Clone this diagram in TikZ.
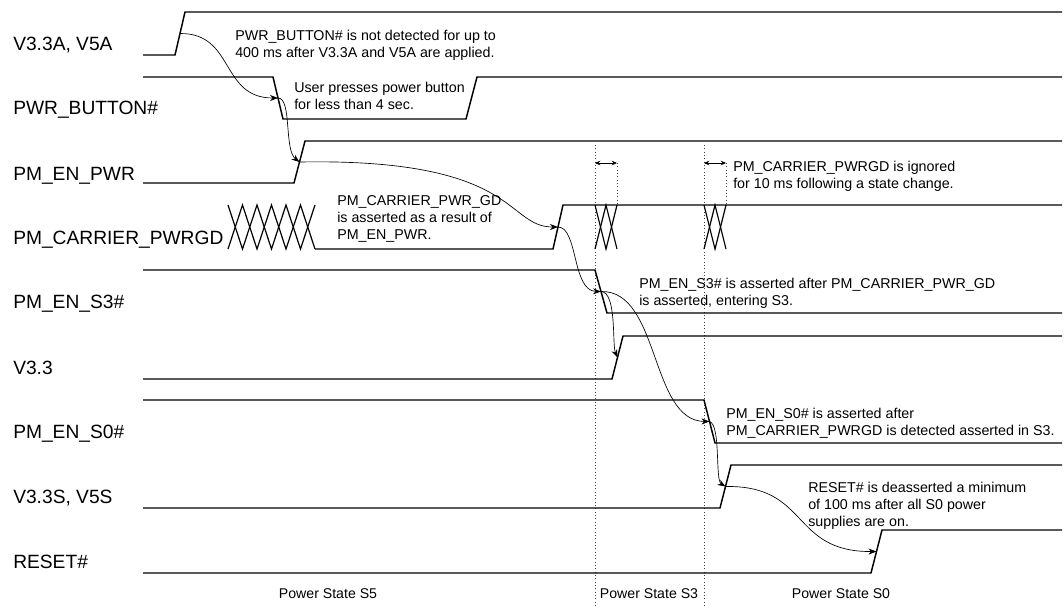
\documentclass[tikz,border=0pt]{standalone}
\usepackage{fontspec}
\setmainfont{Liberation Sans}
\usetikzlibrary{arrows.meta}

\begin{document}
\begin{tikzpicture}[x=0.75pt,y=-0.75pt,
  sig/.style={line width=1.1pt},
  xing/.style={line width=.9pt},
  link/.style={line width=.5pt,-{Stealth[length=6pt,width=4.5pt]}},
  span/.style={line width=.6pt,{Stealth[length=4pt,width=3.5pt]}-{Stealth[length=4pt,width=3.5pt]}},
  guide/.style={line width=.5pt,dotted,black!75},
  lbl/.style={anchor=base west,inner sep=0pt,font=\fontsize{14.4}{17}\selectfont},
  note/.style={anchor=north west,inner sep=0pt,align=left,font=\fontsize{10.7}{12.75}\selectfont},
  state/.style={anchor=base,inner sep=0pt,font=\fontsize{10.6}{12.75}\selectfont}]
\useasboundingbox (0,0) rectangle (1064,608);
\node[lbl] (lbl-v33a) at (13,50) {V3.3A, V5A};
\node[lbl] (lbl-pwrbtn) at (13,114) {PWR\_BUTTON\#};
\node[lbl] (lbl-pmenpwr) at (13,180) {PM\_EN\_PWR};
\node[lbl] (lbl-carrier) at (13,244) {PM\_CARRIER\_PWRGD};
\node[lbl] (lbl-s3) at (13,308) {PM\_EN\_S3\#};
\node[lbl] (lbl-v33) at (13,374) {V3.3};
\node[lbl] (lbl-s0) at (13,438) {PM\_EN\_S0\#};
\node[lbl] (lbl-v33s) at (13,503) {V3.3S, V5S};
\node[lbl] (lbl-reset) at (13,568) {RESET\#};
\draw[guide] (595,145) -- (595,608);
\draw[guide] (704,145) -- (704,608);
\draw[guide] (617,163) -- (617,205);
\draw[guide] (726,163) -- (726,205);
\draw[sig] (143,55) -- (175,55) -- (185,12) -- (1062,12);
\draw[sig] (143,77) -- (273,77) -- (283,119) -- (466,119) -- (477,77) -- (1062,77);
\draw[sig] (143,183) -- (294,183) -- (305,141) -- (1062,141);
\draw[sig] (315,249) -- (553,249) -- (563,205) -- (1062,205);
\draw[xing] (228,205) -- (242.5,249) -- (257,205) -- (271.5,249) -- (286,205) -- (300.5,249) -- (315,205);
\draw[xing] (228,249) -- (242.5,205) -- (257,249) -- (271.5,205) -- (286,249) -- (300.5,205) -- (315,249);
\draw[xing] (595,205) -- (606,249) -- (617,205);
\draw[xing] (595,249) -- (606,205) -- (617,249);
\draw[xing] (704,205) -- (715,249) -- (726,205);
\draw[xing] (704,249) -- (715,205) -- (726,249);
\draw[sig] (143,270) -- (595,270) -- (607,313) -- (1062,313);
\draw[sig] (143,379) -- (612,379) -- (623,336) -- (1062,336);
\draw[sig] (143,400) -- (704,400) -- (715,443) -- (1062,443);
\draw[sig] (143,508) -- (720,508) -- (731,465) -- (1062,465);
\draw[sig] (143,573) -- (871,573) -- (882,530) -- (1062,530);
\coordinate (v33a-up) at (180,33.5);
\coordinate (pwrbtn-dn) at (278,98);
\coordinate (pmenpwr-up) at (299.5,162);
\coordinate (carrier-up) at (558,227);
\coordinate (s3-dn) at (601,291.5);
\coordinate (v33-up) at (617.5,357.5);
\coordinate (s0-dn) at (709.5,421.5);
\coordinate (v33s-up) at (725.5,486.5);
\coordinate (reset-up) at (876.5,551.5);
\coordinate (ign-a) at (595,163);
\coordinate (ign-b) at (617,163);
\coordinate (ign-c) at (704,163);
\coordinate (ign-d) at (726,163);
\draw[link] (v33a-up) .. controls (235,33) and (220,98) .. (pwrbtn-dn);
\draw[link] (pwrbtn-dn) .. controls (292,98) and (284,150) .. (pmenpwr-up);
\draw[link] (pmenpwr-up) .. controls (520,158) and (505,227) .. (carrier-up);
\draw[link] (carrier-up) .. controls (578,227) and (572,291) .. (s3-dn);
\draw[link] (s3-dn) .. controls (617,292) and (612,345) .. (v33-up);
\draw[link] (s3-dn) .. controls (660,290) and (650,421) .. (s0-dn);
\draw[link] (s0-dn) .. controls (721,425) and (715,480) .. (v33s-up);
\draw[link] (v33s-up) .. controls (810,485) and (790,552) .. (reset-up);
\draw[span] (ign-a) -- (ign-b);
\draw[span] (ign-c) -- (ign-d);
\node[note] (note-v33a) at (235,29.6) {PWR\_BUTTON\# is not detected for up to\\400 ms after V3.3A and V5A are applied.};
\node[note] (note-pwrbtn) at (294,81.7) {User presses power button\\for less than 4 sec.};
\node[note] (note-carrier) at (337,195) {PM\_CARRIER\_PWR\_GD\\is asserted as a result of\\PM\_EN\_PWR.};
\node[note] (note-ignore) at (733,161) {PM\_CARRIER\_PWRGD is ignored\\for 10 ms following a state change.};
\node[note] (note-s3) at (639,278) {PM\_EN\_S3\# is asserted after PM\_CARRIER\_PWR\_GD\\is asserted, entering S3.};
\node[note] (note-s0) at (726,408) {PM\_EN\_S0\# is asserted after\\PM\_CARRIER\_PWRGD is detected asserted in S3.};
\node[note] (note-reset) at (808,482) {RESET\# is deasserted a minimum\\of 100 ms after all S0 power\\supplies are on.};
\node[state] (state-s5) at (328,598) {Power State S5};
\node[state] (state-s3) at (649,598) {Power State S3};
\node[state] (state-s0) at (841,598) {Power State S0};
\end{tikzpicture}
\end{document}
